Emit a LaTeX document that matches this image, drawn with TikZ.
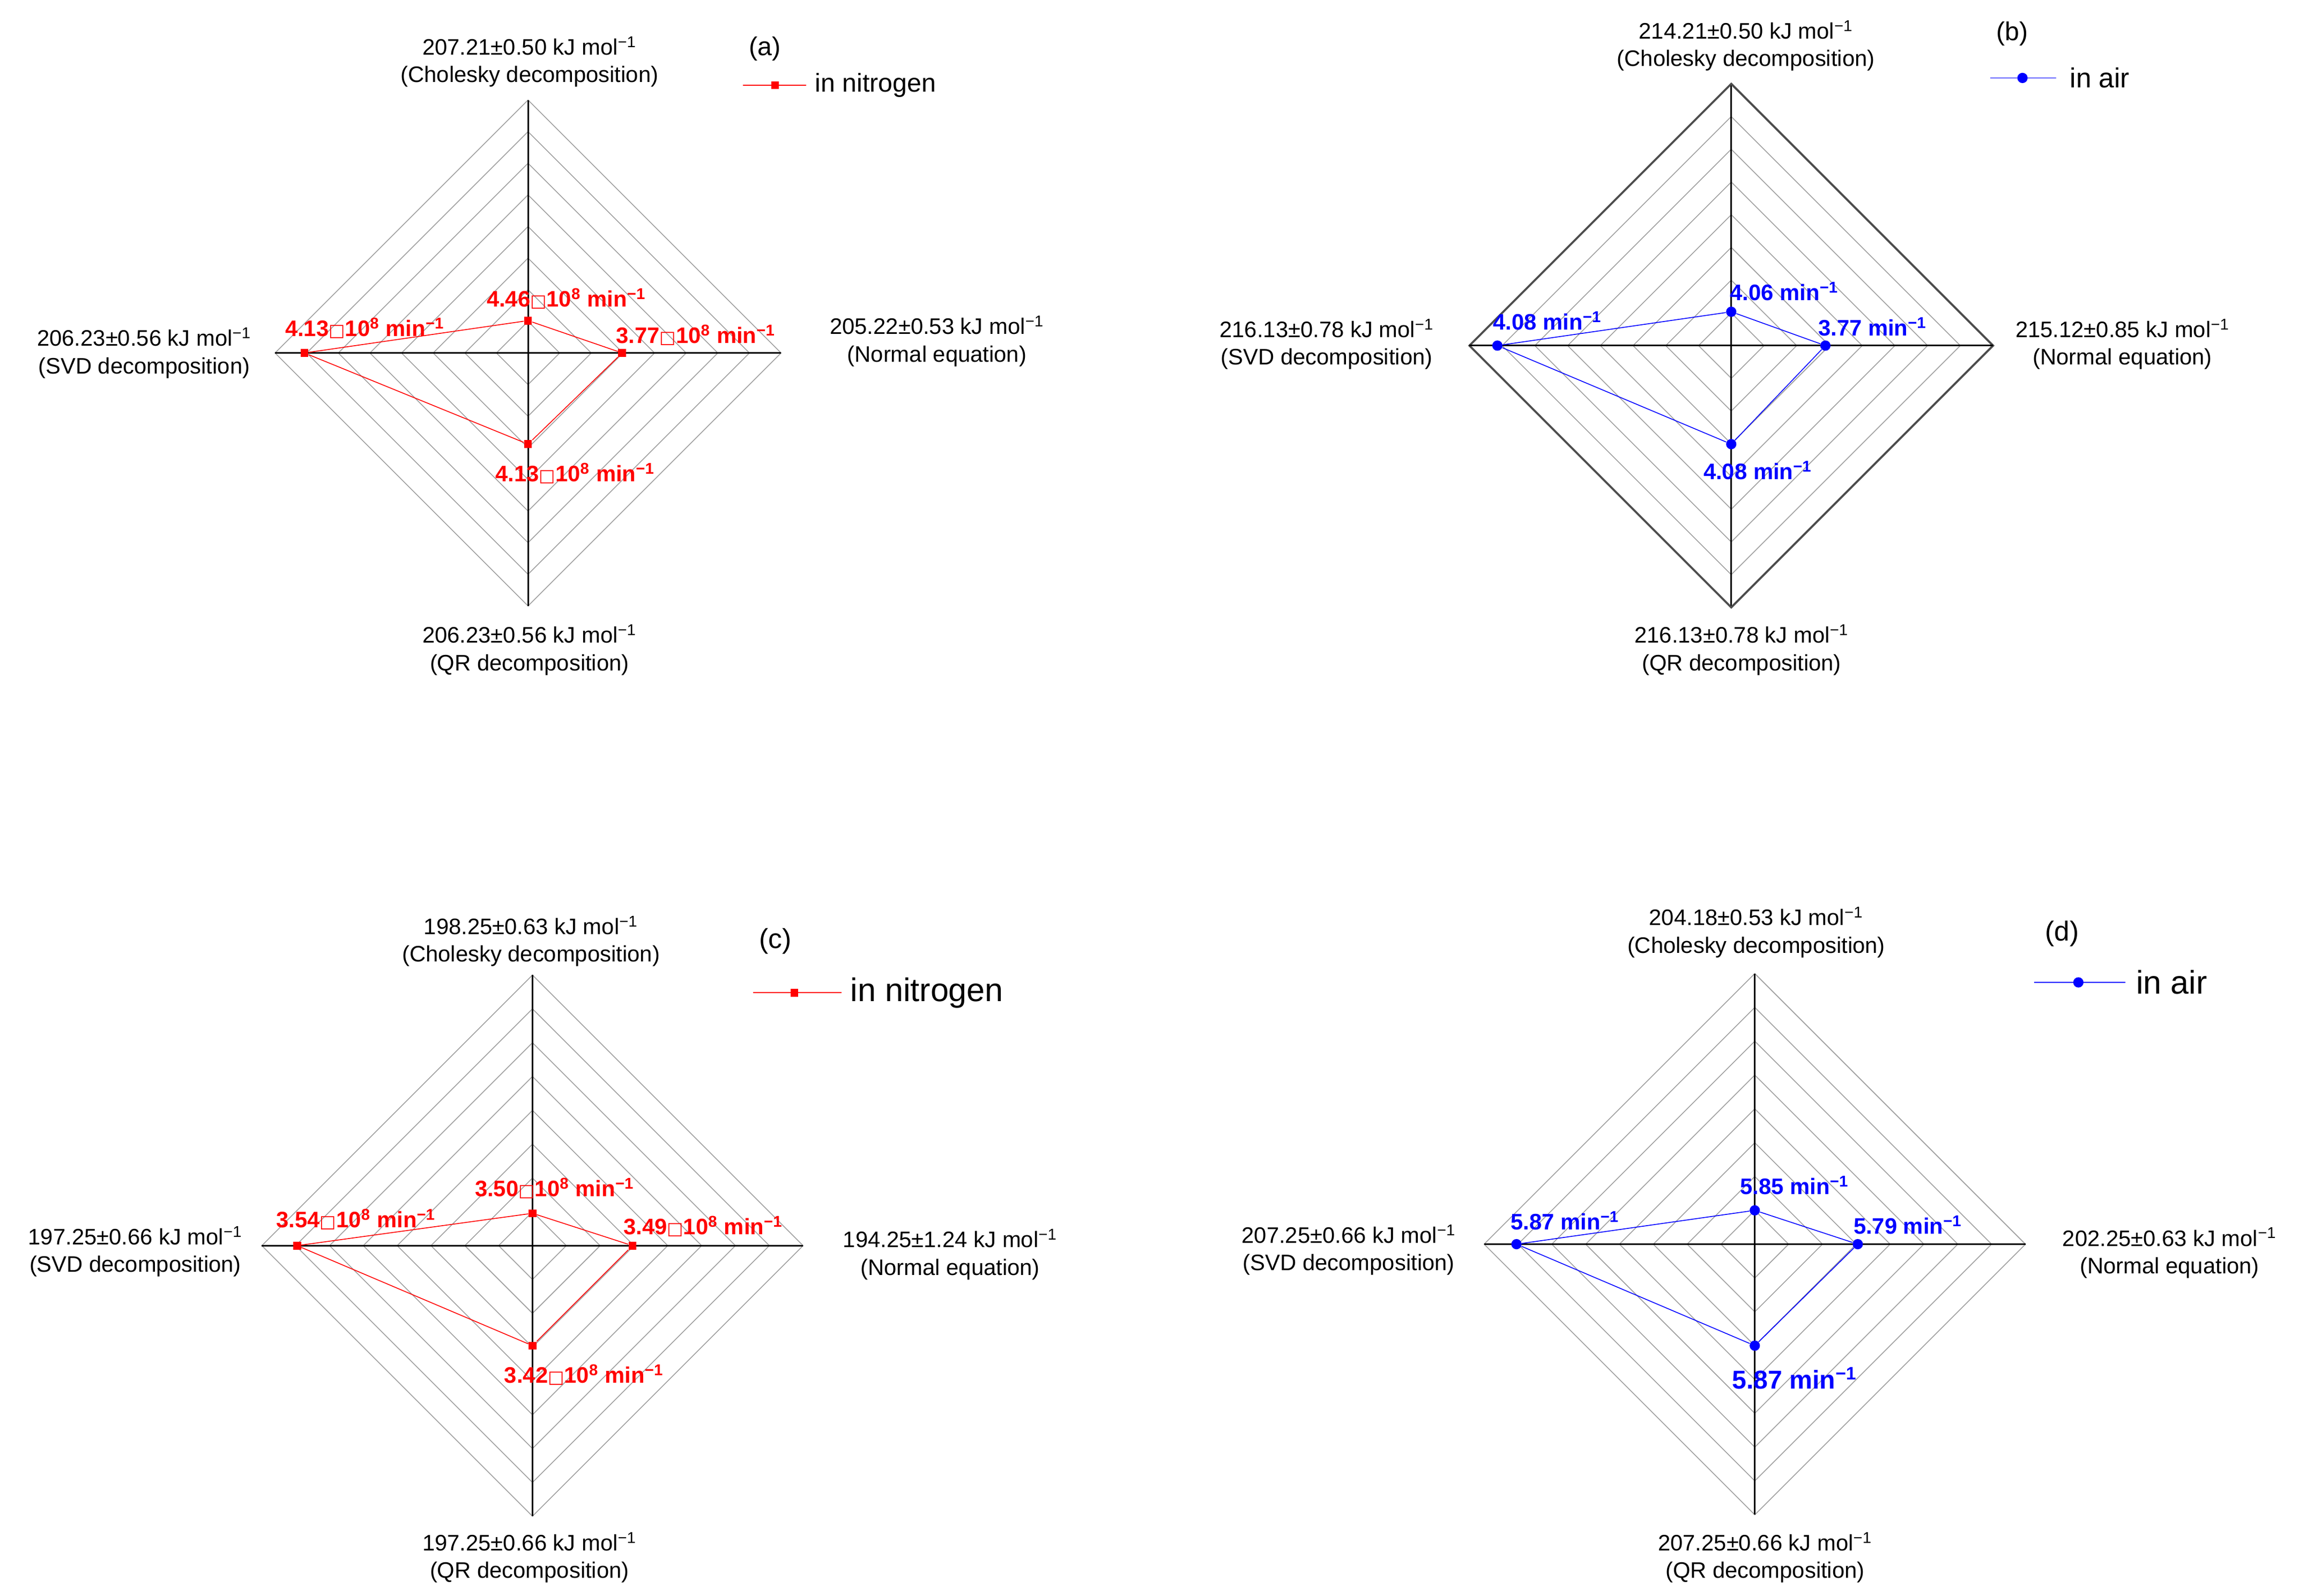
\documentclass[tikz,border=0pt]{standalone}
\usepackage{fontspec}
\setmainfont{Liberation Sans}
\newfontfamily\dvs{DejaVu Sans}
\begin{document}
\begin{tikzpicture}[x=0.03cm,y=-0.03cm,
  ring/.style={gray!75,line width=0.5pt},
  axis/.style={black,line width=1pt},
  lbl/.style={font=\fontsize{13}{16}\selectfont,align=center,inner sep=0},
  val/.style={font=\fontsize{13}{15}\selectfont\bfseries,inner sep=0},
  rsq/.style={fill=red,draw=none,minimum size=0.16cm,inner sep=0,rectangle},
  bci/.style={fill=blue,draw=none,minimum size=0.21cm,inner sep=0,circle},
  rl/.style={red,line width=0.5pt},
  bl/.style={blue,line width=0.5pt}]
\useasboundingbox (0,0) rectangle (1563,1085);
\newcommand\radar[3]{%
  \foreach \k in {1,...,8}{\draw[ring] ({#1-#3*\k/8},#2) -- (#1,{#2-#3*\k/8}) -- ({#1+#3*\k/8},#2) -- (#1,{#2+#3*\k/8}) -- cycle;}
  \draw[axis] ({#1-#3},#2) -- ({#1+#3},#2);
  \draw[axis] (#1,{#2-#3}) -- (#1,{#2+#3});}
\newcommand\bx{{\dvs\fontsize{10}{12}\selectfont\mdseries□}}
\newcommand\mi{min\textsuperscript{−1}}
% ---------- (a)
\radar{359}{240}{172}
\node[rsq] (a1) at (359,218) {};
\node[rsq] (a2) at (423,240) {};
\node[rsq] (a3) at (359,302) {};
\node[rsq] (a4) at (207,240) {};
\draw[rl] (a1)--(a2)--(a3)--(a4)--(a1);
\node[val,red] (av1) at (385,203) {4.46\bx10\textsuperscript{8} \mi};
\node[val,red] (av4) at (248,223) {4.13\bx10\textsuperscript{8} \mi};
\node[val,red] (av2) at (473,228) {3.77\bx10\textsuperscript{8} \mi};
\node[val,red] (av3) at (391,322) {4.13\bx10\textsuperscript{8} \mi};
\node[lbl] (at) at (360,42) {207.21±0.50 kJ mol\textsuperscript{−1}\\(Cholesky decomposition)};
\node[lbl] (al) at (98,240) {206.23±0.56 kJ mol\textsuperscript{−1}\\(SVD decomposition)};
\node[lbl] (ar) at (637,232) {205.22±0.53 kJ mol\textsuperscript{−1}\\(Normal equation)};
\node[lbl] (ab) at (360,442) {206.23±0.56 kJ mol\textsuperscript{−1}\\(QR decomposition)};
\node[lbl,font=\fontsize{15}{18}\selectfont] (ala) at (520,33) {(a)};
\coordinate (aL1) at (505,58); \coordinate (aL2) at (548,58);
\draw[rl] (aL1)--(aL2); \node[rsq] (aLm) at (527,58) {};
\node[lbl,font=\fontsize{15}{18}\selectfont,anchor=west] (aLt) at (554,58) {in nitrogen};
% ---------- (b)
\radar{1177}{235}{178}
\draw[gray!60!black,line width=1.2pt] (999,235)--(1177,57)--(1355,235)--(1177,413)--cycle;
\draw[axis] (999,235)--(1355,235);
\node[bci] (b1) at (1177,212) {};
\node[bci] (b2) at (1241,235) {};
\node[bci] (b3) at (1177,302) {};
\node[bci] (b4) at (1018,235) {};
\draw[bl] (b1)--(b2)--(b3)--(b4)--(b1);
\node[val,blue] (bv1) at (1213,198) {4.06 \mi};
\node[val,blue] (bv4) at (1052,218) {4.08 \mi};
\node[val,blue] (bv2) at (1273,222) {3.77 \mi};
\node[val,blue] (bv3) at (1195,320) {4.08 \mi};
\node[lbl] (bt) at (1187,31) {214.21±0.50 kJ mol\textsuperscript{−1}\\(Cholesky decomposition)};
\node[lbl] (bl) at (902,234) {216.13±0.78 kJ mol\textsuperscript{−1}\\(SVD decomposition)};
\node[lbl] (br) at (1443,234) {215.12±0.85 kJ mol\textsuperscript{−1}\\(Normal equation)};
\node[lbl] (bb) at (1184,442) {216.13±0.78 kJ mol\textsuperscript{−1}\\(QR decomposition)};
\node[lbl,font=\fontsize{15}{18}\selectfont] (bla) at (1368,23) {(b)};
\coordinate (bL1) at (1353,53); \coordinate (bL2) at (1398,53);
\draw[bl] (bL1)--(bL2); \node[bci] (bLm) at (1375,53) {};
\node[lbl,font=\fontsize{16}{19}\selectfont,anchor=west] (bLt) at (1407,53) {in air};
% ---------- (c)
\radar{362}{847}{184}
\node[rsq] (c1) at (362,825) {};
\node[rsq] (c2) at (430,847) {};
\node[rsq] (c3) at (362,915) {};
\node[rsq] (c4) at (202,847) {};
\draw[rl] (c1)--(c2)--(c3)--(c4)--(c1);
\node[val,red] (cv1) at (377,808) {3.50\bx10\textsuperscript{8} \mi};
\node[val,red] (cv4) at (242,829) {3.54\bx10\textsuperscript{8} \mi};
\node[val,red] (cv2) at (478,834) {3.49\bx10\textsuperscript{8} \mi};
\node[val,red] (cv3) at (397,935) {3.42\bx10\textsuperscript{8} \mi};
\node[lbl] (ct) at (361,640) {198.25±0.63 kJ mol\textsuperscript{−1}\\(Cholesky decomposition)};
\node[lbl] (cl) at (92,851) {197.25±0.66 kJ mol\textsuperscript{−1}\\(SVD decomposition)};
\node[lbl] (cr) at (646,853) {194.25±1.24 kJ mol\textsuperscript{−1}\\(Normal equation)};
\node[lbl] (cb) at (360,1059) {197.25±0.66 kJ mol\textsuperscript{−1}\\(QR decomposition)};
\node[lbl,font=\fontsize{16}{19}\selectfont] (cla) at (527,640) {(c)};
\coordinate (cL1) at (512,675); \coordinate (cL2) at (572,675);
\draw[rl] (cL1)--(cL2); \node[rsq] (cLm) at (540,675) {};
\node[lbl,font=\fontsize{19}{22}\selectfont,anchor=west] (cLt) at (578,675) {in nitrogen};
% ---------- (d)
\radar{1193}{846}{184}
\node[bci] (d1) at (1193,823) {};
\node[bci] (d2) at (1263,846) {};
\node[bci] (d3) at (1193,915) {};
\node[bci] (d4) at (1031,846) {};
\draw[bl] (d1)--(d2)--(d3)--(d4)--(d1);
\node[val,blue] (dv1) at (1220,806) {5.85 \mi};
\node[val,blue] (dv4) at (1064,830) {5.87 \mi};
\node[val,blue] (dv2) at (1297,833) {5.79 \mi};
\node[val,blue,font=\fontsize{15}{17}\selectfont\bfseries] (dv3) at (1220,937) {5.87 \mi};
\node[lbl] (dt) at (1194,634) {204.18±0.53 kJ mol\textsuperscript{−1}\\(Cholesky decomposition)};
\node[lbl] (dl) at (917,850) {207.25±0.66 kJ mol\textsuperscript{−1}\\(SVD decomposition)};
\node[lbl] (dr) at (1475,852) {202.25±0.63 kJ mol\textsuperscript{−1}\\(Normal equation)};
\node[lbl] (db) at (1200,1059) {207.25±0.66 kJ mol\textsuperscript{−1}\\(QR decomposition)};
\node[lbl,font=\fontsize{16}{19}\selectfont] (dla) at (1402,635) {(d)};
\coordinate (dL1) at (1383,668); \coordinate (dL2) at (1445,668);
\draw[bl] (dL1)--(dL2); \node[bci] (dLm) at (1413,668) {};
\node[lbl,font=\fontsize{19}{22}\selectfont,anchor=west] (dLt) at (1452,668) {in air};
\end{tikzpicture}
\end{document}
